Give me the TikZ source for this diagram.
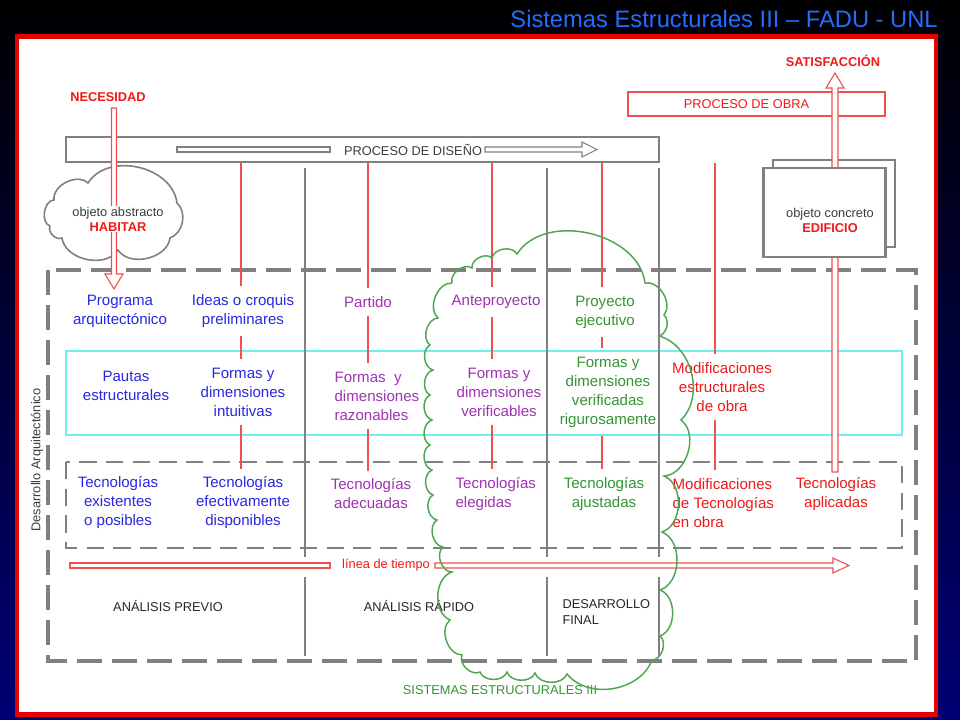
\documentclass[tikz,border=0pt]{standalone}
\usepackage{fontspec}
\setmainfont{Liberation Sans}
\usetikzlibrary{calc}
\definecolor{tblue}{RGB}{40,40,225}
\definecolor{tpurple}{RGB}{160,50,180}
\definecolor{tgreen}{RGB}{50,150,50}
\definecolor{tred}{RGB}{240,25,25}
\definecolor{lred}{RGB}{240,80,80}
\definecolor{lgray}{RGB}{128,128,128}
\definecolor{lcyan}{RGB}{110,240,240}
\definecolor{cgreen}{RGB}{80,165,80}
\definecolor{titleblue}{RGB}{35,110,255}
\definecolor{framered}{RGB}{230,0,0}
\definecolor{bgnavy}{RGB}{0,0,115}
\definecolor{txtgray}{RGB}{60,60,60}
\begin{document}
\begin{tikzpicture}[x=0.75pt,y=-0.75pt,
  coltext/.style={font=\fontsize{11.3pt}{14.25pt}\selectfont, align=center, inner xsep=1pt, inner ysep=6pt},
  smalltext/.style={font=\fontsize{9.6pt}{11.5pt}\selectfont, inner sep=1pt},
  boldsmall/.style={font=\fontsize{9.6pt}{11.5pt}\selectfont\bfseries, inner sep=1pt},
  redline/.style={draw=lred, line width=0.8pt},
  grayv/.style={draw=lgray, line width=2pt},
  hollowred/.style={draw=lred, fill=white, line width=0.8pt},
  hollowgray/.style={draw=lgray, fill=white, line width=0.8pt},
  bump/.style={bend left=70},
]
\useasboundingbox (0,0) rectangle (960,720);
\shade[top color=black, bottom color=bgnavy] (0,0) rectangle (960,720);
\node[anchor=east, font=\fontsize{17.8pt}{20pt}\selectfont, text=titleblue, inner sep=0pt] (title) at (938,19) {Sistemas Estructurales III – FADU - UNL};
\draw[framered, line width=3.6pt, fill=white] (17,36.5) rectangle (936,714.5);

% boxes
\draw[lcyan, line width=1.3pt] (66,351) rectangle (902,435);
\draw[lgray, line width=1.5pt, dash pattern=on 13pt off 7pt] (66,462) rectangle (902,548);
\draw[lgray, line width=3pt, dash pattern=on 18.75pt off 7.5pt] (48,270) rectangle (916,661);

% proceso de diseño
\node[draw=lgray, line width=1pt, minimum width=444.75pt, minimum height=18.75pt, inner sep=0pt] (pd) at (362.5,149.5) {};
\node[smalltext, text=txtgray] (pdtext) at (413,150) {PROCESO DE DISEÑO};
\draw[hollowgray] (177,147) rectangle (330,152);
\draw[hollowgray] (485,147) -- (582,147) -- (582,142) -- (597,149.5) -- (582,157) -- (582,152) -- (485,152) -- cycle;

% gray verticals
\draw[grayv] (305,168) -- (305,557) (305,577) -- (305,656);
\draw[grayv] (547,168) -- (547,557) (547,577) -- (547,656);
\draw[grayv] (659,168) -- (659,557) (659,577) -- (659,656);

% column texts
\node[coltext, text=tblue] (prog) at (120,311) {Programa\\arquitectónico};
\node[coltext, text=tblue] (pautas) at (126,386) {Pautas\\estructurales};
\node[coltext, text=tblue] (tec1) at (118,503) {Tecnologías\\existentes\\o posibles};
\node[coltext, text=tblue] (ideas) at (243,311) {Ideas o croquis\\preliminares};
\node[coltext, text=tblue] (formas2) at (243,392) {Formas y\\dimensiones\\intuitivas};
\node[coltext, text=tblue] (tec2) at (243,503) {Tecnologías\\efectivamente\\disponibles};
\node[coltext, text=tpurple] (partido) at (368,302) {Partido};
\node[coltext, text=tpurple, align=left, anchor=west] (formas3) at (333,396) {Formas\ \ y\\dimensiones\\razonables};
\node[coltext, text=tpurple] (tec3) at (371,494) {Tecnologías\\adecuadas};
\node[coltext, text=tpurple] (antep) at (496,302) {Anteproyecto};
\node[coltext, text=tpurple] (formas4) at (499,392) {Formas y\\dimensiones\\verificables};
\node[coltext, text=tpurple, align=left, anchor=west] (tec4) at (454,494) {Tecnologías\\elegidas};
\node[coltext, text=tgreen] (proy) at (605,312) {Proyecto\\ejecutivo};
\node[coltext, text=tgreen] (formas5) at (608,392) {Formas y\\dimensiones\\verificadas\\rigurosamente};
\node[coltext, text=tgreen] (tec5) at (604,494) {Tecnologías\\ajustadas};
\node[coltext, text=tred] (modest) at (722,387) {Modificaciones\\estructurales\\de obra};
\node[coltext, text=tred, align=left, anchor=west] (modtec) at (671,503) {Modificaciones\\de Tecnologías\\en obra};
\node[coltext, text=tred] (tecap) at (836,494) {Tecnologías\\aplicadas};

% red connectors
\draw[redline] (241,0 |- pd.south) -- (241,0 |- ideas.north) (241,0 |- ideas.south) -- (241,0 |- formas2.north) (241,0 |- formas2.south) -- (241,0 |- tec2.north);
\draw[redline] (368,0 |- pd.south) -- (368,0 |- partido.north) (368,0 |- partido.south) -- (368,0 |- formas3.north) (368,0 |- formas3.south) -- (368,0 |- tec3.north);
\draw[redline] (492,0 |- pd.south) -- (492,0 |- antep.north) (492,0 |- antep.south) -- (492,0 |- formas4.north) (492,0 |- formas4.south) -- (492,0 |- tec4.north);
\draw[redline] (602,0 |- pd.south) -- (602,0 |- proy.north) (602,0 |- proy.south) -- (602,0 |- formas5.north) (602,0 |- formas5.south) -- (602,0 |- tec5.north);
\draw[redline] (715,0 |- pd.south) -- (715,0 |- modest.north) (715,0 |- modest.south) -- (715,0 |- modtec.north);

% left cloud and necesidad arrow
\draw[lgray, line width=1.2pt, fill=white] (50,226) to[bend left=80] (54,200) to[bump] (88,183) to[bend left=70, looseness=1.05] (177,203) to[bend left=60] (170,238) to[bump] (118,250) to[bump] (62,238) to[bump] (50,226);
\node[boldsmall, text=tred] (nec) at (108,97) {NECESIDAD};
\draw[hollowred] (111.5,108) -- (116.5,108) -- (116.5,274) -- (123,274) -- (114,289) -- (105,274) -- (111.5,274) -- cycle;
\node[smalltext, fill=white, align=center, text=txtgray, font=\fontsize{9.6pt}{11.25pt}\selectfont] (abs) at (118,219) {objeto abstracto\\\textcolor{tred}{\bfseries HABITAR}};

% right side
\node[boldsmall, text=tred] (sat) at (833,61) {SATISFACCIÓN};
\node[draw=lred, line width=0.8pt, minimum width=192.75pt, minimum height=18pt, inner sep=0pt] (obrabox) at (756.5,104) {};
\node[smalltext, text=tred] (obra) at (746.5,104) {PROCESO DE OBRA};
\draw[lgray, line width=1pt, fill=white] (773,160) rectangle (895,247);
\draw[hollowred] (832,472) -- (838,472) -- (838,88) -- (844,88) -- (835,73) -- (826,88) -- (832,88) -- cycle;
\node[draw=lgray, line width=2.2pt, fill=white, minimum width=92pt, minimum height=66.75pt, inner sep=0pt] (edif) at (824.5,212.5) {};
\node[smalltext, align=center, text=txtgray, font=\fontsize{9.6pt}{11.25pt}\selectfont] (conc) at (830,220) {objeto concreto\\\textcolor{tred}{\bfseries EDIFICIO}};

% timeline
\node[smalltext, text=tred] (linea) at (386,565) {línea de tiempo};
\draw[hollowred] (70,563) rectangle (330,568);
\draw[hollowred] (435,563) -- (833,563) -- (833,558) -- (849,565.5) -- (833,573) -- (833,568) -- (435,568) -- cycle;

% bottom labels
\node[smalltext, text=black!85] (ap) at (168,606) {ANÁLISIS PREVIO};
\node[smalltext, text=black!85] (ar) at (419,606) {ANÁLISIS RÁPIDO};
\node[smalltext, text=black!85, align=left, anchor=west, font=\fontsize{9.6pt}{12pt}\selectfont] (df) at (561,612) {DESARROLLO\\FINAL};
\node[smalltext, text=tgreen] (sis) at (500,690) {SISTEMAS ESTRUCTURALES III};
\node[smalltext, rotate=90, text=txtgray] (desarq) at (37,460) {Desarrollo Arquitectónico};

% green cloud
\draw[cgreen, line width=1.1pt] (452,283) to[bump] (472,268) to[bump] (492,258) to[bump] (517,254)
  to[bend left=70] (645,283) to[bump] (664,315) to[bend left=60] (659,336)
  to[bend left=60] (681,420) to[bump] (664,476) to[bump] (662,532) to[bump] (660,590)
  to[bump] (660,636) to[bump] (652,660) to[bend left=60] (567,674) to[bump] (535,673)
  to[bump] (507,672) to[bump] (480,672) to[bump] (462,655) to[bump] (450,620)
  to[bump] (452,572) to[bump] (443,547) to[bump] (437,520) to[bump] (433,495)
  to[bump] (432,470) to[bump] (430,445) to[bump] (432,420) to[bump] (430,395)
  to[bump] (433,370) to[bump] (430,345) to[bump] (438,318) to[bump] (452,283);
\end{tikzpicture}
\end{document}
